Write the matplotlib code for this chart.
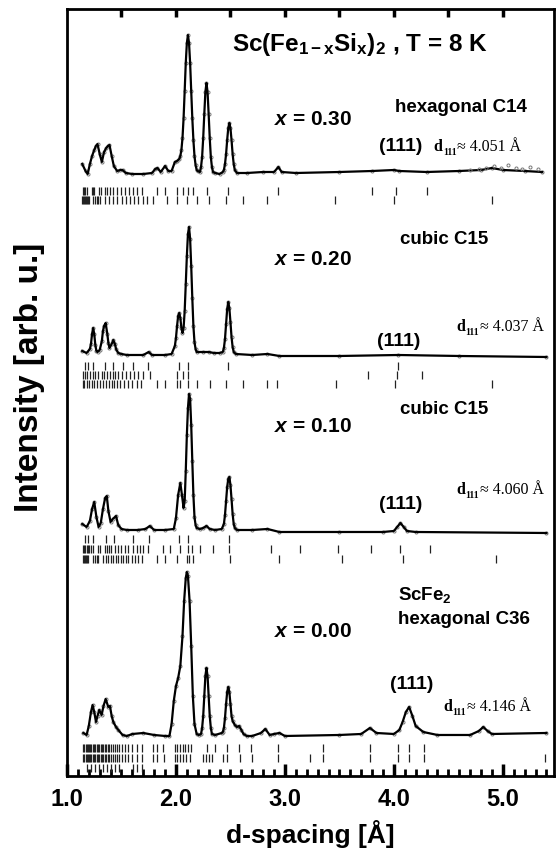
import matplotlib.pyplot as plt
import matplotlib as mat

mat.rc('font', family='Liberation Sans', weight='bold')
mat.rcParams['mathtext.fontset'] = 'custom'
mat.rcParams['mathtext.rm'] = 'Liberation Sans:bold'
mat.rcParams['mathtext.bf'] = 'Liberation Sans:bold'
mat.rcParams['mathtext.it'] = 'Liberation Sans:italic:bold'

# d-spacing [A] and intensity above background [arb. u.] for each sample
d_030 = [1.14, 1.17, 1.19, 1.21, 1.23, 1.25, 1.265, 1.28, 1.30, 1.32, 1.34, 1.36, 1.375, 1.39,
         1.41, 1.43, 1.46, 1.49, 1.51, 1.54, 1.60, 1.70, 1.78, 1.81, 1.83, 1.86, 1.90, 1.93,
         1.96, 1.99, 2.01, 2.03, 2.04, 2.05, 2.06, 2.07, 2.08, 2.09, 2.10, 2.11, 2.12, 2.13,
         2.14, 2.15, 2.16, 2.17, 2.18, 2.19, 2.20, 2.22, 2.23, 2.24, 2.25, 2.26, 2.27, 2.28,
         2.29, 2.30, 2.31, 2.32, 2.33, 2.34, 2.36, 2.40, 2.43, 2.44, 2.45, 2.46, 2.47, 2.48,
         2.49, 2.50, 2.51, 2.52, 2.53, 2.54, 2.56, 2.65, 2.80, 2.90, 2.94, 2.97, 3.10, 3.50,
         3.80, 4.00, 4.05, 4.30, 4.60, 4.80, 4.90, 5.00, 5.20, 5.36]
i_030 = [10, 3, 0, 10, 18, 24, 28, 30, 20, 12, 22, 26, 28, 29,
         18, 8, 3, 4, 4, 1, 0, 0, 1, 5, 6, 2, 8, 3,
         3, 12, 13, 15, 18, 24, 36, 56, 83, 111, 131, 139, 131, 111,
         83, 56, 34, 18, 9, 4, 3, 2, 7, 17, 36, 60, 82, 91,
         82, 60, 36, 17, 7, 2, 1, 0, 2, 4, 10, 20, 34, 46,
         51, 46, 34, 20, 10, 4, 1, 1, 2, 2, 7, 2, 1, 2,
         3, 4, 3, 2, 3, 4, 6, 4, 3, 2]
obs_d_030 = [4.70, 4.78, 4.85, 4.92, 4.98, 5.05, 5.12, 5.18, 5.25, 5.32]
obs_i_030 = [4, 5, 6, 8, 6, 9, 6, 5, 7, 5]

d_020 = [1.14, 1.18, 1.21, 1.22, 1.23, 1.24, 1.25, 1.26, 1.27, 1.28, 1.30, 1.32, 1.33, 1.34,
         1.355, 1.37, 1.38, 1.39, 1.41, 1.425, 1.44, 1.45, 1.47, 1.50, 1.55, 1.70, 1.75, 1.78,
         1.90, 1.96, 1.99, 2.00, 2.01, 2.02, 2.03, 2.04, 2.05, 2.06, 2.07, 2.08, 2.09, 2.10,
         2.11, 2.12, 2.13, 2.14, 2.15, 2.16, 2.17, 2.18, 2.19, 2.25, 2.30, 2.35, 2.40, 2.43,
         2.44, 2.45, 2.46, 2.47, 2.48, 2.49, 2.50, 2.51, 2.52, 2.53, 2.55, 2.70, 2.84, 2.95,
         3.50, 4.04, 4.60, 5.40]
i_020 = [5, 3, 7, 12, 22, 28, 22, 11, 5, 4, 6, 15, 25, 30,
         33, 22, 13, 8, 12, 16, 12, 7, 3, 2, 1, 1, 4, 1,
         1, 2, 10, 18, 30, 40, 43, 38, 28, 23, 28, 45, 72, 100,
         122, 129, 117, 90, 58, 30, 14, 7, 4, 4, 4, 3, 3, 4,
         8, 17, 32, 47, 54, 48, 34, 19, 9, 4, 2, 1, 2, 0,
         0, 1, 0, -1]

d_010 = [1.14, 1.18, 1.21, 1.23, 1.25, 1.27, 1.29, 1.31, 1.33, 1.35, 1.365, 1.38, 1.40, 1.42,
         1.45, 1.47, 1.50, 1.55, 1.65, 1.72, 1.76, 1.80, 1.90, 1.98, 2.00, 2.02, 2.04, 2.055,
         2.07, 2.08, 2.09, 2.10, 2.11, 2.12, 2.13, 2.14, 2.15, 2.16, 2.17, 2.18, 2.19, 2.22,
         2.25, 2.28, 2.31, 2.36, 2.42, 2.44, 2.45, 2.46, 2.47, 2.48, 2.49, 2.50, 2.51, 2.52,
         2.53, 2.54, 2.56, 2.70, 2.84, 2.95, 3.50, 3.90, 4.00, 4.03, 4.06, 4.09, 4.12, 4.20,
         5.40]
i_010 = [9, 6, 12, 24, 31, 16, 6, 10, 24, 35, 37, 22, 11, 14,
         17, 8, 4, 3, 3, 4, 7, 3, 3, 4, 15, 38, 50, 38,
         25, 32, 62, 98, 125, 139, 134, 108, 72, 38, 16, 8, 5, 4,
         5, 7, 4, 3, 4, 9, 18, 32, 46, 54, 56, 48, 34, 19,
         9, 5, 3, 3, 4, 1, 1, 1, 2, 6, 10, 6, 2, 1,
         0]

d_000 = [1.15, 1.18, 1.20, 1.22, 1.235, 1.25, 1.266, 1.28, 1.296, 1.318, 1.335, 1.355, 1.379,
         1.394, 1.41, 1.425, 1.45, 1.471, 1.51, 1.55, 1.60, 1.70, 1.80, 1.90, 1.94, 1.96, 1.98,
         2.00, 2.02, 2.04, 2.06, 2.075, 2.09, 2.10, 2.11, 2.125, 2.14, 2.155, 2.17, 2.19, 2.21,
         2.23, 2.24, 2.25, 2.26, 2.27, 2.28, 2.29, 2.30, 2.31, 2.32, 2.33, 2.36, 2.42, 2.43,
         2.44, 2.45, 2.46, 2.47, 2.48, 2.49, 2.50, 2.51, 2.52, 2.54, 2.56, 2.58, 2.60, 2.62,
         2.65, 2.70, 2.78, 2.82, 2.86, 2.90, 2.95, 3.00, 3.50, 3.70, 3.78, 3.84, 4.00, 4.05,
         4.08, 4.11, 4.14, 4.17, 4.20, 4.27, 4.40, 4.70, 4.78, 4.82, 4.86, 4.90, 5.40]
i_000 = [3, 1, 10, 24, 31, 24, 14, 20, 26, 21, 30, 37, 29,
         30, 20, 14, 9, 6, 1, 0, 2, 3, 1, 0, 0, 12, 35,
         50, 58, 70, 100, 135, 158, 164, 160, 135, 90, 40, 12, 2, 1,
         2, 8, 20, 40, 60, 68, 60, 40, 20, 8, 2, 1, 3, 4,
         8, 18, 32, 44, 49, 44, 32, 20, 15, 11, 9, 10, 6, 2,
         0, 0, 3, 7, 1, 2, 3, 0, 1, 2, 8, 3, 2, 6,
         14, 24, 29, 20, 10, 4, 1, 1, 5, 9, 5, 2, 3]

# Bragg reflection markers (d-values) for each sample, one list per row
ticks_030 = [
    [1.144, 1.156, 1.168, 1.181, 1.226, 1.238, 1.251, 1.294, 1.309, 1.346, 1.364, 1.394, 1.425,
     1.462, 1.495, 1.532, 1.572, 1.609, 1.639, 1.685, 1.823, 1.899, 2.006, 2.067, 2.113, 2.153,
     2.281, 2.480, 2.939, 3.795, 4.019, 4.300],
    [1.135, 1.144, 1.153, 1.162, 1.171, 1.181, 1.190, 1.199, 1.242, 1.257, 1.272, 1.287, 1.303,
     1.349, 1.385, 1.425, 1.462, 1.502, 1.538, 1.578, 1.615, 1.654, 1.700, 1.737, 1.792, 1.920,
     2.006, 2.098, 2.190, 2.306, 2.456, 2.618, 2.832, 3.459, 4.000, 4.896],
]
ticks_020 = [
    [1.163, 1.195, 1.242, 1.349, 1.425, 1.517, 1.609, 1.746, 2.027, 2.113, 2.480, 4.034],
    [1.144, 1.165, 1.187, 1.211, 1.236, 1.260, 1.287, 1.318, 1.342, 1.370, 1.394, 1.419, 1.440,
     1.471, 1.502, 1.538, 1.578, 1.615, 1.654, 1.700, 1.761, 2.006, 2.067, 2.113, 3.764, 4.025,
     4.254],
    [1.144, 1.160, 1.180, 1.200, 1.225, 1.250, 1.275, 1.300, 1.330, 1.355, 1.385, 1.410, 1.430,
     1.460, 1.490, 1.520, 1.560, 1.600, 1.640, 1.680, 1.823, 1.899, 2.006, 2.040, 2.113, 2.190,
     2.312, 2.456, 2.618, 2.832, 2.924, 3.468, 4.009, 4.905],
]
ticks_010 = [
    [1.163, 1.195, 1.242, 1.355, 1.434, 1.609, 1.755, 2.030, 2.113, 2.489],
    [1.144, 1.156, 1.168, 1.181, 1.193, 1.205, 1.217, 1.242, 1.287, 1.303, 1.349, 1.364, 1.385,
     1.401, 1.440, 1.471, 1.495, 1.532, 1.563, 1.609, 1.639, 1.670, 1.700, 1.746, 1.884, 1.945,
     2.037, 2.113, 2.150, 2.220, 2.342, 2.489, 2.869, 3.138, 3.490, 3.790, 4.060, 4.330],
    [1.144, 1.153, 1.162, 1.171, 1.181, 1.190, 1.242, 1.257, 1.272, 1.287, 1.333, 1.355, 1.379,
     1.401, 1.425, 1.450, 1.471, 1.495, 1.517, 1.541, 1.563, 1.593, 1.624, 1.654, 1.685, 1.823,
     1.899, 2.012, 2.098, 2.122, 2.153, 2.495, 2.945, 3.520, 4.080, 4.940],
]
ticks_000 = [
    [1.150, 1.160, 1.170, 1.180, 1.190, 1.200, 1.212, 1.224, 1.236, 1.248, 1.260, 1.272, 1.285,
     1.298, 1.310, 1.322, 1.335, 1.348, 1.360, 1.375, 1.390, 1.405, 1.420, 1.440, 1.460, 1.480,
     1.505, 1.530, 1.560, 1.600, 1.640, 1.690, 1.786, 1.823, 1.884, 1.991, 2.012, 2.037, 2.061,
     2.083, 2.107, 2.135, 2.281, 2.358, 2.465, 2.578, 2.688, 2.939, 3.345, 3.780, 4.034, 4.140,
     4.275],
    [1.150, 1.160, 1.170, 1.180, 1.190, 1.200, 1.212, 1.224, 1.236, 1.248, 1.260, 1.272, 1.285,
     1.298, 1.310, 1.322, 1.335, 1.348, 1.360, 1.375, 1.390, 1.405, 1.420, 1.440, 1.460, 1.480,
     1.505, 1.530, 1.560, 1.600, 1.640, 1.690, 1.786, 1.823, 1.890, 1.991, 2.012, 2.037, 2.061,
     2.092, 2.128, 2.251, 2.275, 2.303, 2.327, 2.434, 2.465, 2.587, 2.694, 2.939, 3.229, 3.345,
     3.780, 4.034, 4.140, 4.275, 5.385],
    [1.181, 1.217, 1.257, 1.297, 1.327, 1.364, 1.401, 1.440, 1.480, 1.602, 1.639, 1.685],
]

offsets = [602, 420, 243, 40]
tick_rows = [[581, 572], [406, 397, 388], [233, 223, 213], [24, 14, 4]]

fig = plt.figure(figsize=(5.56, 8.49), dpi=100)
ax = fig.add_axes([0.1205, 0.086, 0.876, 0.9034])

patterns = [(d_030, i_030, ticks_030), (d_020, i_020, ticks_020),
            (d_010, i_010, ticks_010), (d_000, i_000, ticks_000)]
for k, (dd, ii, tk) in enumerate(patterns):
    off = offsets[k]
    yy = [v + off for v in ii]
    ax.plot(dd, yy, color='#777777', ls='none', marker='o', ms=2.2, mfc='none', mew=0.7)
    ax.plot(dd, yy, color='black', lw=1.6)
    for row, y0 in zip(tk, tick_rows[k]):
        ax.vlines(row, y0, y0 + 8, color='#222222', lw=0.9)

ax.plot(obs_d_030, [v + offsets[0] for v in obs_i_030], color='#777777', ls='none',
        marker='o', ms=2.2, mfc='none', mew=0.7)

ax.set_xlim(1.0, 5.47)
ax.set_ylim(0, 767)
ax.set_yticks([])
ax.set_xticks([1, 2, 3, 4, 5])
ax.set_xticklabels(['1.0', '2.0', '3.0', '4.0', '5.0'], fontsize=17, weight='bold')
ax.set_xticks([1 + 0.1 * n for n in range(45)], minor=True)
ax.tick_params(axis='x', which='major', direction='in', length=9, width=2.5, pad=9)
ax.tick_params(axis='x', which='minor', direction='in', length=5, width=2)
for s in ax.spines.values():
    s.set_linewidth(2)

top = ax.secondary_xaxis('top')
top.set_xticks([1.5, 2.0, 2.5, 3.0, 3.5, 4.0, 4.5, 5.0])
top.set_xticklabels([])
top.tick_params(direction='in', length=6, width=2.5)

ax.set_xlabel('d-spacing [Å]', fontsize=19, weight='bold', labelpad=6)
ax.set_ylabel('Intensity [arb. u.]', fontsize=24, weight='bold')
ax.yaxis.set_label_coords(-0.045, 0.52)

ax.text(2.51, 731, r'Sc(Fe$_{\mathbf{1-x}}$Si$_{\mathbf{x}}$)$_{\mathbf{2}}$ , T = 8 K',
        fontsize=17.5, va='center')

lab = dict(fontsize=13.5, va='center')
ax.text(4.01, 668, 'hexagonal C14', **lab)
ax.text(4.06, 536, 'cubic C15', **lab)
ax.text(4.06, 366, 'cubic C15', **lab)
ax.text(4.04, 181, r'ScFe$_{\mathbf{2}}$', **lab)
ax.text(4.04, 156, 'hexagonal C36', **lab)

xs = dict(fontsize=15, va='center', ha='right')
ax.text(3.62, 656, r'$x$ = 0.30', **xs)
ax.text(3.62, 516, r'$x$ = 0.20', **xs)
ax.text(3.62, 349, r'$x$ = 0.10', **xs)
ax.text(3.62, 144, r'$x$ = 0.00', **xs)

hk = dict(fontsize=14, va='center', ha='center')
ax.text(4.06, 629, '(111)', **hk)
ax.text(4.04, 434, '(111)', **hk)
ax.text(4.06, 271, '(111)', **hk)
ax.text(4.16, 91, '(111)', **hk)


def d_label(x, y, val):
    ax.text(x, y, 'd', family='Liberation Serif', weight='bold', fontsize=11.5, va='baseline')
    ax.annotate('111', (x, y), xytext=(7, -3), textcoords='offset points',
                family='Liberation Serif', weight='bold', fontsize=7, va='baseline')
    ax.annotate('≈ ' + val + ' Å', (x, y), xytext=(17.5, 0), textcoords='offset points',
                family='Liberation Serif', weight='normal', fontsize=11.5, va='baseline')


d_label(4.36, 625, '4.051')
d_label(4.57, 445, '4.037')
d_label(4.57, 282, '4.060')
d_label(4.45, 65, '4.146')

fig.savefig('out.png', dpi=100)
